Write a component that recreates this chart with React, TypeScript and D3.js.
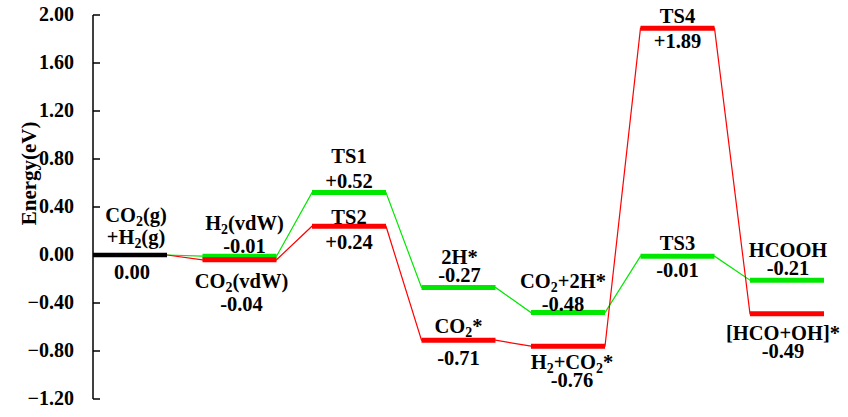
import React from "react";
import * as d3 from "d3";

// ---- data ----
const stepIndex = [0, 1, 2, 3, 4, 5, 6];
const greenEnergies = [0.0, -0.01, 0.52, -0.27, -0.48, -0.01, -0.21];
const redEnergies = [0.0, -0.04, 0.24, -0.71, -0.76, 1.89, -0.49];
const greenNames = ["", "H2(vdW)", "TS1", "2H*", "CO2+2H*", "TS3", "HCOOH"];
const redNames = ["", "CO2(vdW)", "TS2", "CO2*", "H2+CO2*", "TS4", "[HCO+OH]*"];
const startNames = ["CO2(g)", "+H2(g)"];
const yTicks = [2.0, 1.6, 1.2, 0.8, 0.4, 0.0, -0.4, -0.8, -1.2];

// ---- label layout (offsets from bar, px) ----
const greenLabelDy: [number, number][] = [[0, 0], [-26, -3], [-30, -5], [-23, -5], [-25, -2], [-6, 21], [-23, -5]];
const redLabelDy: [number, number][] = [[0, 0], [28, 51], [-2, 23], [-7, 25], [23, 41], [-5, 20], [26, 44]];
const greenLabelDx = [0, 5, 0, 1, -5, 0, 1];
const redLabelDx = [0, 2, 0, 0, 4, 0, -4];

const W = 848, H = 417;
const FONT = "'Times New Roman', 'Liberation Serif', serif";
const GREEN = "#00e800";
const RED = "#ff0000";
const BAR_W = 74;
const FS = 20.5;

const x = d3.scaleLinear().domain([0, 6]).range([93, 750]);
const y = d3.scaleLinear().domain([-1.2, 2]).range([399, 15]);

const fmt = (v: number) => (v > 0 ? "+" : v < 0 ? "-" : "") + d3.format(".2f")(Math.abs(v));

function Chem({ text, x0, y0, size = FS }: { text: string; x0: number; y0: number; size?: number }) {
  // digits following letters become subscripts (CO2, H2), except in TS labels
  const parts: { t: string; sub: boolean }[] = [];
  for (let i = 0; i < text.length; i++) {
    const c = text[i];
    const prev = i > 0 ? text[i - 1] : "";
    const sub = /[0-9]/.test(c) && /[A-Za-z]/.test(prev) && !/^TS/.test(text);
    if (parts.length && parts[parts.length - 1].sub === sub) parts[parts.length - 1].t += c;
    else parts.push({ t: c, sub });
  }
  const out: React.ReactNode[] = [];
  let shifted = false;
  parts.forEach((p, i) => {
    if (p.sub) {
      out.push(<tspan key={i} fontSize={size * 0.68} dy={4}>{p.t}</tspan>);
      shifted = true;
    } else {
      out.push(<tspan key={i} dy={shifted ? -4 : 0}>{p.t}</tspan>);
      shifted = false;
    }
  });
  return (
    <text x={x0} y={y0} textAnchor="middle" fontFamily={FONT} fontWeight="bold" fontSize={size} fill="#000">
      {out}
    </text>
  );
}

function pathFor(vals: number[]) {
  const pts: [number, number][] = [];
  vals.forEach((v, i) => {
    pts.push([x(i), y(v)]);
    pts.push([x(i) + BAR_W, y(v)]);
  });
  return d3.line()(pts.slice(1)) as string;
}

export default function App() {
  const seriesList = [
    { vals: greenEnergies, names: greenNames, color: GREEN, dy: greenLabelDy, dx: greenLabelDx },
    { vals: redEnergies, names: redNames, color: RED, dy: redLabelDy, dx: redLabelDx },
  ];
  return (
    <svg width={W} height={H} style={{ position: "absolute", left: 0, top: 0, background: "#fff" }}>
      {/* connectors */}
      {seriesList.map((s, k) => (
        <path key={"c" + k} d={pathFor(s.vals)} fill="none" stroke={s.color} strokeWidth={1.2} />
      ))}
      {/* bars */}
      {seriesList.map((s, k) =>
        stepIndex.slice(1).map((i) => (
          <line key={"b" + k + i} x1={x(i)} x2={x(i) + BAR_W} y1={y(s.vals[i])} y2={y(s.vals[i])} stroke={s.color} strokeWidth={5} />
        ))
      )}
      <line x1={x(0)} x2={x(0) + BAR_W} y1={y(greenEnergies[0])} y2={y(greenEnergies[0])} stroke="#000" strokeWidth={4.5} />

      {/* axis */}
      <line x1={93} x2={93} y1={y(2)} y2={y(-1.2)} stroke="#000" strokeWidth={1.5} />
      {yTicks.map((t) => (
        <g key={t}>
          <line x1={93} x2={100} y1={y(t)} y2={y(t)} stroke="#000" strokeWidth={1.5} />
          <text x={74} y={y(t) + 6} textAnchor="end" fontFamily={FONT} fontWeight="bold" fontSize={20}>
            {d3.format(".2f")(t)}
          </text>
        </g>
      ))}
      <text
        transform={`translate(36, ${y(0.68)}) rotate(-90)`}
        textAnchor="middle"
        fontFamily={FONT}
        fontWeight="bold"
        fontSize={21}
      >
        Energy(eV)
      </text>

      {/* start labels */}
      <Chem text={startNames[0]} x0={x(0) + BAR_W / 2 + 6} y0={y(0) - 33} />
      <Chem text={startNames[1]} x0={x(0) + BAR_W / 2 + 6} y0={y(0) - 11} />
      <text x={x(0) + BAR_W / 2 + 2} y={y(0) + 24} textAnchor="middle" fontFamily={FONT} fontWeight="bold" fontSize={FS}>
        {fmt(greenEnergies[0])}
      </text>

      {/* level labels */}
      {seriesList.map((s, k) =>
        stepIndex.slice(1).map((i) => {
          const cx = x(i) + BAR_W / 2 + s.dx[i];
          const by = y(s.vals[i]);
          return (
            <g key={"l" + k + i}>
              <Chem text={s.names[i]} x0={cx} y0={by + s.dy[i][0]} />
              <text x={cx} y={by + s.dy[i][1]} textAnchor="middle" fontFamily={FONT} fontWeight="bold" fontSize={FS}>
                {fmt(s.vals[i])}
              </text>
            </g>
          );
        })
      )}
    </svg>
  );
}
